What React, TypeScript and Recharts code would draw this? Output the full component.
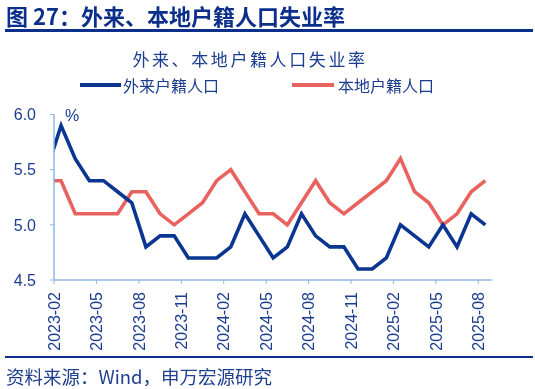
import { Line, LineChart, XAxis, YAxis } from "recharts";

const months = [
  "2023-01", "2023-02", "2023-03", "2023-04", "2023-05", "2023-06",
  "2023-07", "2023-08", "2023-09", "2023-10", "2023-11", "2023-12",
  "2024-01", "2024-02", "2024-03", "2024-04", "2024-05", "2024-06",
  "2024-07", "2024-08", "2024-09", "2024-10", "2024-11", "2024-12",
  "2025-01", "2025-02", "2025-03", "2025-04", "2025-05", "2025-06",
  "2025-07", "2025-08",
];

// 外来户籍人口
const migrant = [
  5.5, 5.9, 5.6, 5.4, 5.4, 5.3, 5.2, 4.8, 4.9, 4.9, 4.7, 4.7,
  4.7, 4.8, 5.1, 4.9, 4.7, 4.8, 5.1, 4.9, 4.8, 4.8, 4.6, 4.6,
  4.7, 5.0, 4.9, 4.8, 5.0, 4.8, 5.1, 5.0,
];

// 本地户籍人口
const local = [
  5.4, 5.4, 5.1, 5.1, 5.1, 5.1, 5.3, 5.3, 5.1, 5.0, 5.1, 5.2,
  5.4, 5.5, 5.3, 5.1, 5.1, 5.0, 5.2, 5.4, 5.2, 5.1, 5.2, 5.3,
  5.4, 5.6, 5.3, 5.2, 5.0, 5.1, 5.3, 5.4,
];

const tickLabels = [
  "2023-02", "2023-05", "2023-08", "2023-11", "2024-02", "2024-05",
  "2024-08", "2024-11", "2025-02", "2025-05", "2025-08",
];

const yTicks = [4.5, 5.0, 5.5, 6.0];

const BLUE = "#0a3591";
const RED = "#e8625f";
const AXIS = "#8db8e3";
const TEXT = "#1b3d8f";
const FONT = '"Liberation Sans", "Noto Sans CJK SC", sans-serif';
const CJK = '"Noto Sans CJK SC", "Liberation Sans", sans-serif';

// date axis: ticks sit on the 1st of the month, values mid-month
const data = months.map((m, i) => ({
  x: i + 0.5,
  month: m,
  migrant: migrant[i],
  local: local[i],
}));

const xTicks = tickLabels.map((l) => months.indexOf(l));

function XTick(props: any) {
  const { x, y, payload } = props;
  return (
    <g transform={`translate(${x},${y})`}>
      <text
        x={0}
        y={0}
        dy="0.36em"
        textAnchor="end"
        transform="rotate(-90)"
        fill={TEXT}
        fontSize={16}
        fontFamily={FONT}
      >
        {months[payload.value]}
      </text>
    </g>
  );
}

export default function App() {
  return (
    <div
      style={{
        position: "fixed",
        left: 0,
        top: 0,
        width: 535,
        height: 389,
        background: "#fff",
        fontFamily: CJK,
        color: TEXT,
      }}
    >
      <div
        style={{
          position: "absolute",
          left: 6,
          top: 2,
          fontSize: 22,
          fontWeight: 700,
          color: "#0d2f8c",
          whiteSpace: "nowrap",
          lineHeight: "26px",
        }}
      >
        图 27：外来、本地户籍人口失业率
      </div>
      <div
        style={{
          position: "absolute",
          left: 5,
          top: 29,
          width: 528,
          height: 3,
          background: "#0d2f8c",
        }}
      />

      <div
        style={{
          position: "absolute",
          left: 0,
          width: 500,
          top: 48,
          textAlign: "center",
          fontSize: 17,
          letterSpacing: 2.6,
          lineHeight: "22px",
          whiteSpace: "nowrap",
        }}
      >
        外来、本地户籍人口失业率
      </div>

      <div style={{ position: "absolute", left: 80, top: 83, width: 41, height: 4, background: BLUE }} />
      <div style={{ position: "absolute", left: 123, top: 75, fontSize: 16, lineHeight: "20px", whiteSpace: "nowrap" }}>
        外来户籍人口
      </div>
      <div style={{ position: "absolute", left: 292, top: 83, width: 42, height: 4, background: RED }} />
      <div style={{ position: "absolute", left: 338, top: 75, fontSize: 16, lineHeight: "20px", whiteSpace: "nowrap" }}>
        本地户籍人口
      </div>

      <div
        style={{
          position: "absolute",
          left: 65,
          top: 107,
          fontSize: 16,
          fontFamily: FONT,
          lineHeight: "18px",
        }}
      >
        %
      </div>

      <div style={{ position: "absolute", left: 0, top: 0 }}>
        <LineChart
          width={535}
          height={389}
          data={data}
          margin={{ top: 114.5, right: 42.6, bottom: 49, left: 0 }}
        >
          <XAxis
            dataKey="x"
            type="number"
            domain={[months.indexOf("2023-02"), months.length]}
            ticks={xTicks}
            allowDataOverflow
            interval={0}
            height={60}
            tickSize={4}
            tickMargin={8}
            stroke={AXIS}
            tickLine={{ stroke: AXIS }}
            axisLine={{ stroke: AXIS, strokeWidth: 1.5 }}
            tick={<XTick />}
          />
          <YAxis
            type="number"
            domain={[4.5, 6.0]}
            ticks={yTicks}
            width={54}
            tickSize={4}
            tickMargin={14}
            stroke={AXIS}
            tickLine={{ stroke: AXIS }}
            axisLine={{ stroke: AXIS, strokeWidth: 1.5 }}
            tickFormatter={(v: number) => v.toFixed(1)}
            tick={{ fill: TEXT, fontSize: 16, fontFamily: FONT }}
          />
          <Line
            type="linear"
            dataKey="local"
            stroke={RED}
            strokeWidth={3.6}
            dot={false}
            isAnimationActive={false}
          />
          <Line
            type="linear"
            dataKey="migrant"
            stroke={BLUE}
            strokeWidth={3.6}
            dot={false}
            isAnimationActive={false}
          />
        </LineChart>
      </div>

      <div
        style={{
          position: "absolute",
          left: 5,
          top: 356,
          width: 528,
          height: 2,
          background: "#0d2f8c",
        }}
      />
      <div
        style={{
          position: "absolute",
          left: 6,
          top: 365,
          fontSize: 18.5,
          lineHeight: "22px",
          whiteSpace: "nowrap",
          color: "#1f3f8f",
        }}
      >
        资料来源：Wind，申万宏源研究
      </div>
    </div>
  );
}
